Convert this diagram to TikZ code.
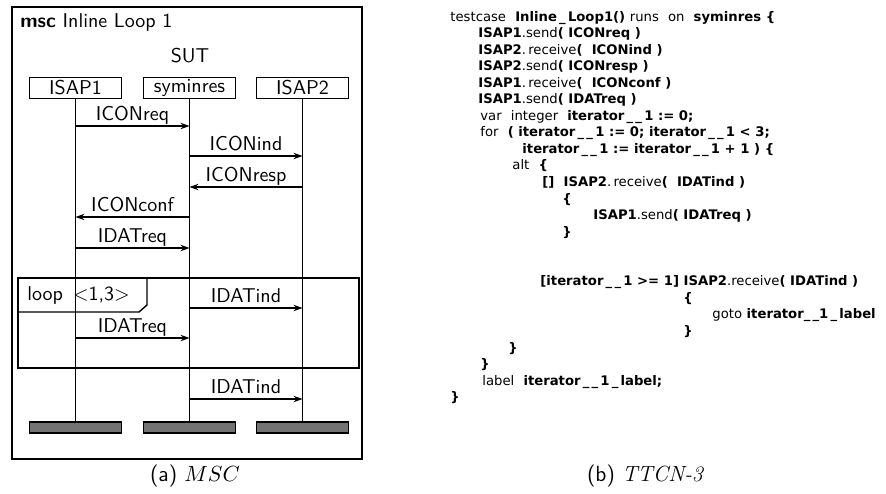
\documentclass[tikz,border=0pt]{standalone}
\usepackage{fontspec}
\newfontfamily\codefont{DejaVu Sans}
\usetikzlibrary{arrows.meta}

\newcommand{\kw}[1]{{\mdseries #1}}
\newcommand{\itvar}{iterator\,\_\,\_\,1}

\tikzset{
    inst/.style={draw, line width=0.7pt, minimum width=46pt, minimum height=10.5pt, inner sep=0pt, font=\sffamily},
    endbar/.style={draw, fill=black!55, line width=0.6pt, minimum width=46pt, minimum height=5.5pt, inner sep=0pt},
    life/.style={line width=0.7pt},
    msg/.style={line width=0.6pt, -{Stealth[length=4.5pt, width=3.2pt]}},
    lbl/.style={font=\sffamily, anchor=base, yshift=3pt, inner sep=0pt},
    codeline/.style={anchor=base west, inner sep=0pt, font={\codefont\bfseries\fontsize{6.6}{8}\selectfont}}
}

\begin{document}
\begin{tikzpicture}[x=0.5pt, y=-0.5pt]
    \useasboundingbox (0,0) rectangle (886,493);

    % MSC frame and title
    \draw[line width=0.7pt] (12,7) rectangle (362,459);
    \node[anchor=west, inner sep=0pt, font=\sffamily] (title) at (20,22) {\textbf{msc} Inline Loop 1};
    \node[font=\sffamily] (sut) at (190,56) {SUT};

    % Instances
    \node[inst] (isap1) at (75.5,88) {ISAP1};
    \node[inst] (symi) at (189.5,88) {syminres};
    \node[inst] (isap2) at (302.5,88) {ISAP2};

    % Instance ends
    \node[endbar] (end1) at (75.5,427.5) {};
    \node[endbar] (end2) at (189.5,427.5) {};
    \node[endbar] (end3) at (302.5,427.5) {};

    % Lifelines
    \draw[life] (isap1.south) -- (end1.north);
    \draw[life] (symi.south) -- (end2.north);
    \draw[life] (isap2.south) -- (end3.north);

    % Message levels
    \foreach \y [count=\i] in {126,156,187,217,248,308,338,399}
        \coordinate (m\i) at (0,\y);

    % Messages
    \draw[msg] (isap1 |- m1) -- (symi |- m1) node[lbl, midway] {ICONreq};
    \draw[msg] (symi |- m2) -- (isap2 |- m2) node[lbl, midway] {ICONind};
    \draw[msg] (isap2 |- m3) -- (symi |- m3) node[lbl, midway] {ICONresp};
    \draw[msg] (symi |- m4) -- (isap1 |- m4) node[lbl, midway] {ICONconf};
    \draw[msg] (isap1 |- m5) -- (symi |- m5) node[lbl, midway] {IDATreq};

    % Inline loop
    \draw[line width=0.7pt] (18,278) rectangle (359,368);
    \draw[line width=0.7pt] (18,312) -- (139,312) -- (147,305) -- (147,278);
    \node[anchor=west, inner sep=0pt, font=\sffamily] (looptag) at (27,295) {loop\enspace<1,3>};
    \draw[msg] (symi |- m6) -- (isap2 |- m6) node[lbl, midway] {IDATind};
    \draw[msg] (isap1 |- m7) -- (symi |- m7) node[lbl, midway] {IDATreq};

    % After the loop
    \draw[msg] (symi |- m8) -- (isap2 |- m8) node[lbl, midway] {IDATind};

    % TTCN-3 code
    \foreach \x/\k/\txt [count=\i] in {
        450/0/{\kw{testcase}\ \ Inline\,\_\,Loop1() \kw{runs}\ \ \kw{on}\ \ syminres \{},
        478/1/{ISAP1\kw{.send}( ICONreq )},
        478/2/{ISAP2\kw{.\,receive}(\ \ ICONind )},
        478/3/{ISAP2\kw{.send}( ICONresp )},
        478/4/{ISAP1\kw{.\,receive}(\ \ ICONconf )},
        478/5/{ISAP1\kw{.send}( IDATreq )},
        480/6/{\kw{var}\ \ \kw{integer}\ \ \itvar\ := 0;},
        480/7/{\kw{for}\ \ (\ \itvar\ := 0;\ \itvar\ < 3;},
        522/8/{\itvar\ := \itvar\ + 1 ) \{},
        512/9/{\kw{alt}\ \ \{},
        542/10/{[]\ \ ISAP2\kw{.\,receive}(\ \ IDATind )},
        562/11/{\{},
        593/12/{ISAP1\kw{.send}( IDATreq )},
        562/13/{\}},
        540/16/{[\itvar\ >= 1] ISAP2\kw{.receive}( IDATind )},
        683/17/{\{},
        712/18/{\kw{goto} iterator\_\,\_1\,\_\,label},
        683/19/{\}},
        508/20/{\}},
        480/21/{\}},
        482/22/{\kw{label}\ \ \itvar\,\_\,label;},
        450/23/{\}}}
        \node[codeline] (code\i) at (\x, {21+16.55*\k}) {\txt};

    % Captions
    \node[font=\sffamily\fontsize{11}{13}\selectfont] (capa) at (195,476) {(a) $MSC$};
    \node[font=\sffamily\fontsize{11}{13}\selectfont] (capb) at (645,476) {(b) {\rmfamily\itshape TTCN-3}};
\end{tikzpicture}
\end{document}
